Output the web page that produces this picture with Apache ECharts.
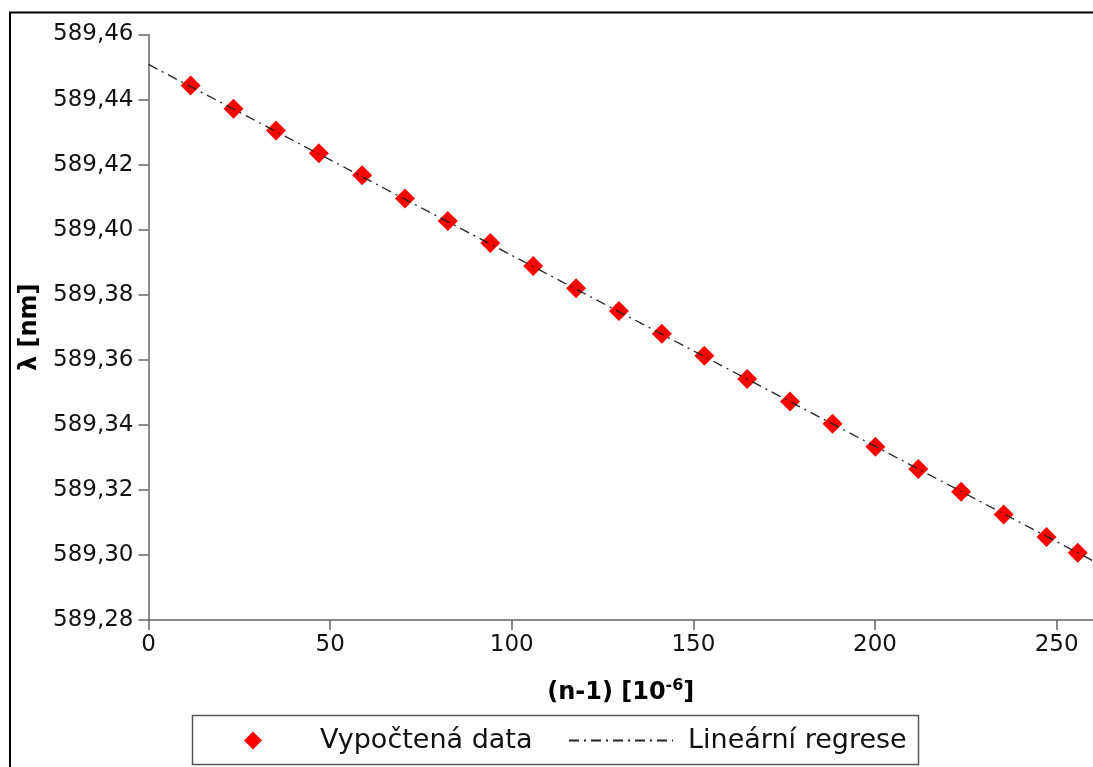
<!DOCTYPE html>
<html>
<head>
<meta charset="utf-8">
<script src="https://cdn.jsdelivr.net/npm/echarts@6/dist/echarts.min.js"></script>
<style>
html,body{margin:0;padding:0;background:#fff;}
#chart{width:1093px;height:767px;}
</style>
</head>
<body>
<div id="chart"></div>
<script>
// Data
const nMinus1 = [11.6, 23.4, 35.1, 46.9, 58.8, 70.6, 82.4, 94.1, 105.9, 117.7, 129.5, 141.3, 153.0, 164.8, 176.6, 188.3, 200.1, 211.9, 223.7, 235.4, 247.2, 255.8];
const lambda = [589.4443, 589.4372, 589.4305, 589.4235, 589.4167, 589.4096, 589.4027, 589.3959, 589.3888, 589.3820, 589.3750, 589.3680, 589.3612, 589.3541, 589.3472, 589.3403, 589.3333, 589.3264, 589.3194, 589.3124, 589.3055, 589.3007];
const regX = [0, 260];
const regY = [589.4508, 589.2982];
const xTicks = [0, 50, 100, 150, 200, 250];
const yTicks = ['589,28', '589,30', '589,32', '589,34', '589,36', '589,38', '589,40', '589,42', '589,44', '589,46'];
const seriesNames = ['Vypočtená data', 'Lineární regrese'];

const FONT = 'DejaVu Sans';
const diamond = 'path://M0,-1L1,0L0,1L-1,0Z';

const chart = echarts.init(document.getElementById('chart'), null, {renderer: 'canvas'});
const yMin = 589.28, yMax = 589.46, yStep = 0.02;

chart.setOption({
  animation: false,
  backgroundColor: '#fff',
  textStyle: {fontFamily: FONT},
  grid: {left: 148.5, right: 0, top: 34.5, bottom: 147, containLabel: false},
  xAxis: {
    type: 'value', min: 0, max: 260, interval: 50,
    name: '(n-1) [10{sup|-6}]',
    nameLocation: 'middle', nameGap: 58,
    nameTextStyle: {
      fontFamily: FONT, fontSize: 24, fontWeight: 'bold', color: '#000',
      rich: {sup: {fontFamily: FONT, fontSize: 16, fontWeight: 'bold', color: '#000', padding: [0, 0, 13, 0]}}
    },
    axisLine: {show: true, lineStyle: {color: '#666', width: 1.5}},
    axisTick: {show: true, length: 10, customValues: xTicks, lineStyle: {color: '#666', width: 1.5}},
    axisLabel: {
      fontFamily: FONT, fontSize: 23, color: '#111', margin: 14,
      customValues: xTicks,
      formatter: v => xTicks.indexOf(v) >= 0 ? String(v) : ''
    },
    splitLine: {show: false}
  },
  yAxis: {
    type: 'value', min: yMin, max: yMax, interval: yStep,
    name: 'λ [nm]',
    nameLocation: 'middle', nameGap: 103, nameRotate: 90,
    nameTextStyle: {fontFamily: FONT, fontSize: 24, fontWeight: 'bold', color: '#000'},
    axisLine: {show: true, lineStyle: {color: '#666', width: 1.5}},
    axisTick: {show: true, length: 10, lineStyle: {color: '#666', width: 1.5}},
    axisLabel: {
      fontFamily: FONT, fontSize: 23, color: '#111', margin: 15,
      formatter: v => yTicks[Math.round((v - yMin) / yStep)] || ''
    },
    splitLine: {show: false}
  },
  legend: [
    {
      data: [seriesNames[0]], left: 244, top: 727, padding: 0,
      itemWidth: 18, itemHeight: 18, icon: diamond,
      itemStyle: {opacity: 1},
      textStyle: {fontFamily: FONT, fontSize: 27, color: '#111', padding: [0, 0, 0, 53]}
    },
    {
      data: [seriesNames[1]], left: 568, top: 727, padding: 0,
      itemWidth: 104, itemHeight: 14,
      itemStyle: {opacity: 0},
      textStyle: {fontFamily: FONT, fontSize: 27, color: '#111', padding: [0, 0, 0, 10]}
    }
  ],
  graphic: [
    {type: 'rect', shape: {x: 10, y: 12.5, width: 1200, height: 1000}, style: {fill: 'none', stroke: '#000', lineWidth: 2}, silent: true, z: 100},
    {type: 'rect', shape: {x: 192.5, y: 715.5, width: 726, height: 49}, style: {fill: 'none', stroke: '#555', lineWidth: 1.5}, silent: true, z: 100}
  ],
  series: [
    {
      name: seriesNames[0], type: 'scatter',
      data: nMinus1.map((x, i) => [x, lambda[i]]),
      symbol: diamond, symbolSize: 20,
      itemStyle: {color: '#ff0000', opacity: 1}, z: 2
    },
    {
      name: seriesNames[1], type: 'line',
      data: regX.map((x, i) => [x, regY[i]]),
      symbol: 'none', showSymbol: false,
      lineStyle: {color: '#222', width: 1.3, type: [10, 5, 2, 5]},
      itemStyle: {color: '#222'}, z: 3
    }
  ]
});
</script>
</body>
</html>
